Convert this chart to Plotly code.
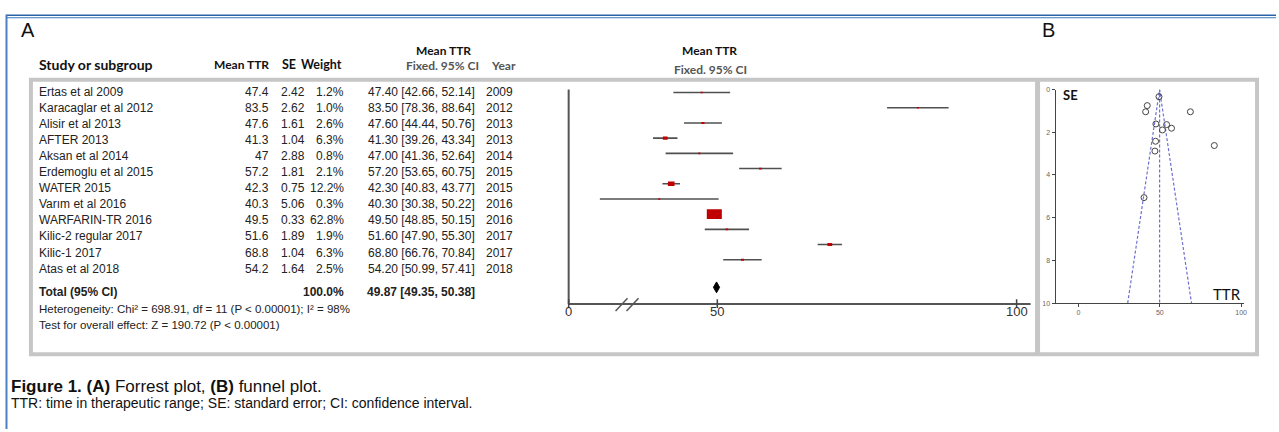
import plotly.graph_objects as go

W, H = 1279, 432

# ---------------- data ----------------
studies = ["Ertas et al 2009", "Karacaglar et al 2012", "Alisir et al 2013", "AFTER 2013",
           "Aksan et al 2014", "Erdemoglu et al 2015", "WATER 2015", "Varım et al 2016",
           "WARFARIN-TR 2016", "Kilic-2 regular 2017", "Kilic-1 2017", "Atas et al 2018"]
mean_ttr = [47.4, 83.5, 47.6, 41.3, 47.0, 57.2, 42.3, 40.3, 49.5, 51.6, 68.8, 54.2]
se = [2.42, 2.62, 1.61, 1.04, 2.88, 1.81, 0.75, 5.06, 0.33, 1.89, 1.04, 1.64]
weight = [1.2, 1.0, 2.6, 6.3, 0.8, 2.1, 12.2, 0.3, 62.8, 1.9, 6.3, 2.5]
ci_low = [42.66, 78.36, 44.44, 39.26, 41.36, 53.65, 40.83, 30.38, 48.85, 47.90, 66.76, 50.99]
ci_high = [52.14, 88.64, 50.76, 43.34, 52.64, 60.75, 43.77, 50.22, 50.15, 55.30, 70.84, 57.41]
years = [2009, 2012, 2013, 2013, 2014, 2015, 2015, 2016, 2016, 2017, 2017, 2018]
total_weight = 100.0
total_mean = 49.87
total_low = 49.35
total_high = 50.38
heterogeneity_text = "Heterogeneity: Chi² = 698.91, df = 11 (P < 0.00001); I² = 98%"
overall_text = "Test for overall effect: Z = 190.72 (P < 0.00001)"
forest_tick_vals = [0, 50, 100]
funnel_x_ticks = [0, 50, 100]
funnel_y_ticks = [0, 2, 4, 6, 8, 10]
z95 = 1.96

# ---------------- helpers ----------------
def X(px):
    return px / W

def Y(py):
    return 1 - py / H

TXT = "Liberation Sans, Arial, sans-serif"
HDR = "Lato, Open Sans, sans-serif"

fig = go.Figure()
annotations = []
shapes = []

def ann(text, x, y, size=12, anchor="left", color="#222", family=TXT, **kw):
    annotations.append(dict(text=text, x=X(x), y=Y(y), xref="paper", yref="paper",
                            xanchor=anchor, yanchor="middle", showarrow=False,
                            font=dict(size=size, color=color, family=family), **kw))

# ---------------- forest plot axes (x, y) ----------------
PX50, PXU = 719, 6.0
ROW0, ROWH = 90, 15.45
def vx(px):
    return 50 + (px - PX50) / PXU
def ry(py):
    return 1 + (py - ROW0) / ROWH

fx0, fx1 = 560, 1036
fy0, fy1 = 78, 318
break_value = vx(570)  # position that carries the "0" label after the axis break
rows = list(range(1, len(studies) + 1))
total_row = ry(288)
axis_row = ry(305)

# CI lines
lx, ly = [], []
for r, lo, hi in zip(rows, ci_low, ci_high):
    lx += [lo, hi, None]
    ly += [r, r, None]
fig.add_trace(go.Scatter(x=lx, y=ly, mode="lines", line=dict(color="#505050", width=1.6),
                         hoverinfo="skip", showlegend=False, xaxis="x", yaxis="y"))

# weight squares
for r, m, w in zip(rows, mean_ttr, weight):
    hw = max(0.95 * w ** 0.5, 1.0) / PXU
    hh = max(0.63 * w ** 0.5, 0.8) / ROWH
    shapes.append(dict(type="rect", xref="x", yref="y", x0=m - hw, x1=m + hw,
                       y0=r - hh, y1=r + hh, fillcolor="#c00000", line=dict(width=0)))

# diamond
dh = 5.5 / ROWH
fig.add_trace(go.Scatter(x=[total_low, total_mean, total_high, total_mean, total_low],
                         y=[total_row, total_row - dh, total_row, total_row + dh, total_row],
                         mode="lines", fill="toself", fillcolor="#000", line=dict(color="#000", width=1),
                         hoverinfo="skip", showlegend=False, xaxis="x", yaxis="y"))

# axes lines
axis_top = ry(87)
shapes.append(dict(type="line", xref="x", yref="y", x0=break_value, x1=break_value,
                   y0=axis_top, y1=axis_row, line=dict(color="#555", width=2)))
shapes.append(dict(type="line", xref="x", yref="y", x0=break_value, x1=vx(1033),
                   y0=axis_row, y1=axis_row, line=dict(color="#555", width=2)))
tick_pos = [break_value if v == 0 else v for v in forest_tick_vals]
for tv, lab in zip(tick_pos, forest_tick_vals):
    shapes.append(dict(type="line", xref="x", yref="y", x0=tv, x1=tv,
                       y0=axis_row - 5 / ROWH, y1=axis_row + 4 / ROWH, line=dict(color="#444", width=1.5)))
    annotations.append(dict(text=str(lab), x=tv, y=Y(313), xref="x", yref="paper",
                            xanchor="center", yanchor="middle", showarrow=False,
                            font=dict(size=13, color="#333", family=TXT)))
# axis break marks
for a in (617, 628):
    shapes.append(dict(type="line", xref="x", yref="y", x0=vx(a), x1=vx(a + 12),
                       y0=ry(312), y1=ry(299), line=dict(color="#555", width=1.5)))

# ---------------- funnel plot axes (x2, y2) ----------------
fig.add_trace(go.Scatter(x=[total_mean - z95 * 10, total_mean, total_mean + z95 * 10],
                         y=[10, 0, 10], mode="lines",
                         line=dict(color="#6f6fd0", width=1.2, dash="3px,2px"),
                         hoverinfo="skip", showlegend=False, xaxis="x2", yaxis="y2"))
fig.add_trace(go.Scatter(x=[total_mean, total_mean], y=[0, 10], mode="lines",
                         line=dict(color="#6f6fd0", width=1.2, dash="3px,2px"),
                         hoverinfo="skip", showlegend=False, xaxis="x2", yaxis="y2"))
fig.add_trace(go.Scatter(x=mean_ttr, y=se, mode="markers",
                         marker=dict(symbol="circle-open", size=6, color="#444", line=dict(width=1)),
                         hoverinfo="skip", showlegend=False, xaxis="x2", yaxis="y2", cliponaxis=False))

# ---------------- texts: panel A table ----------------
ann("A", 19, 26, size=20, color="#111")
ann("B", 1042, 26, size=20, color="#111")
ann("<b>Study or subgroup</b>", 37, 62, size=14, family=HDR, color="#111")
ann("<b>Mean TTR</b>", 272, 62, size=12, anchor="right", family=HDR, color="#111")
ann("<b>SE</b>", 281, 62, size=12.5, family=HDR, color="#111")
ann("<b>Weight</b>", 300, 62, size=12.5, family=HDR, color="#111")
ann("<b>Mean TTR</b>", 445, 47, size=12, anchor="center", family=HDR, color="#111")
ann("<b>Fixed. 95% CI</b>", 444, 63, size=12, anchor="center", family=HDR, color="#555")
ann("<b>Year</b>", 490, 63, size=12, family=HDR, color="#555")
ann("<b>Mean TTR</b>", 711, 47, size=12, anchor="center", family=HDR, color="#111")
ann("<b>Fixed. 95% CI</b>", 712, 67, size=12, anchor="center", family=HDR, color="#555")

TROW0, TROWH = 89, 16.36
for i, (st, m, s, w, lo, hi, yr) in enumerate(zip(studies, mean_ttr, se, weight, ci_low, ci_high, years)):
    yy = TROW0 + i * TROWH
    ann(st, 37, yy)
    ann(f"{m:g}", 272, yy, anchor="right")
    ann(f"{s:.2f}", 280, yy)
    ann(f"{w:.1f}%", 347, yy, anchor="right")
    ann(f"{m:.2f} [{lo:.2f}, {hi:.2f}]", 478, yy, anchor="right")
    ann(str(yr), 485, yy)

ann("<b>Total (95% CI)</b>", 37, 293)
ann(f"<b>{total_weight:.1f}%</b>", 347, 293, anchor="right")
ann(f"<b>{total_mean:.2f} [{total_low:.2f}, {total_high:.2f}]</b>", 478, 293, anchor="right")
ann(heterogeneity_text, 37, 310, size=11.5)
ann(overall_text, 37, 326, size=11.5)

# funnel labels
ann("<b>SE</b>", 1063, 93, size=13, family=HDR, color="#111")
ann("TTR", 1214, 295, size=15, family=HDR, color="#111")

# caption
ann("<b>Figure 1. (A)</b> Forrest plot, <b>(B)</b> funnel plot.", 9, 389, size=17, color="#111")
ann("TTR: time in therapeutic range; SE: standard error; CI: confidence interval.", 9, 406, size=14, color="#111")

# ---------------- frames ----------------
shapes.append(dict(type="rect", xref="paper", yref="paper", x0=X(31), x1=X(1260), y0=Y(77), y1=Y(356),
                   line=dict(color="#c6c6c6", width=4), layer="below"))
shapes.append(dict(type="line", xref="paper", yref="paper", x0=X(1040), x1=X(1040), y0=Y(77), y1=Y(356),
                   line=dict(color="#c6c6c6", width=5), layer="below"))
shapes.append(dict(type="line", xref="paper", yref="paper", x0=X(6), x1=X(1279), y0=Y(11.5), y1=Y(11.5),
                   line=dict(color="#2a62a8", width=1.5)))
shapes.append(dict(type="line", xref="paper", yref="paper", x0=X(6), x1=X(1279), y0=Y(14), y1=Y(14),
                   line=dict(color="#3a78bf", width=1.2)))
shapes.append(dict(type="line", xref="paper", yref="paper", x0=X(6.5), x1=X(6.5), y0=Y(11), y1=Y(432),
                   line=dict(color="#4a80c2", width=2)))

fig.update_layout(
    width=W, height=H, autosize=False,
    margin=dict(l=0, r=0, t=0, b=0, pad=0),
    paper_bgcolor="white", plot_bgcolor="rgba(0,0,0,0)",
    showlegend=False,
    xaxis=dict(domain=[X(fx0), X(fx1)], range=[vx(fx0), vx(fx1)], visible=False, fixedrange=True),
    yaxis=dict(domain=[Y(fy1), Y(fy0)], range=[ry(fy1), ry(fy0)], visible=False, fixedrange=True),
    xaxis2=dict(domain=[X(1058), X(1247)], range=[-14.1, 101.8], anchor="y2",
                showline=True, linecolor="#444", linewidth=1, showgrid=False, zeroline=False,
                tickvals=funnel_x_ticks, ticks="outside", ticklen=3, tickcolor="#444",
                tickfont=dict(size=7, color="#666", family=TXT), fixedrange=True),
    yaxis2=dict(domain=[Y(304), Y(87)], range=[10, 0], anchor="x2",
                showline=True, linecolor="#444", linewidth=1, showgrid=False, zeroline=False,
                tickvals=funnel_y_ticks, ticks="outside", ticklen=3, tickcolor="#444",
                tickfont=dict(size=7, color="#666", family=TXT), fixedrange=True),
    annotations=annotations,
    shapes=shapes,
)

fig.write_html("out.html", config={"displayModeBar": False},
               post_script="document.body.style.margin='0';document.body.style.overflow='hidden';")
